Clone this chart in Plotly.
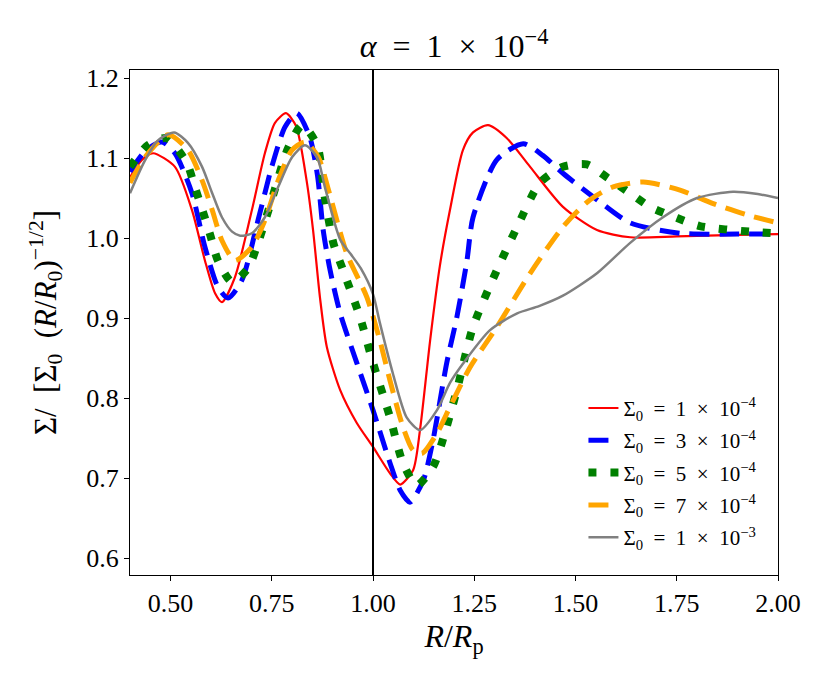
import plotly.graph_objects as go

# ---- data ----
red_x = [0.40, 0.43, 0.457, 0.511, 0.553, 0.585, 0.61, 0.627, 0.659, 0.701, 0.733, 0.758, 0.785, 0.81, 0.836,
         0.852, 0.869, 0.886, 0.919, 0.96, 1.0, 1.042, 1.067, 1.099, 1.116, 1.141, 1.165, 1.19, 1.222, 1.247,
         1.284, 1.33, 1.388, 1.469, 1.553, 1.635, 1.75, 1.9, 2.0]
red_y = [1.076, 1.098, 1.106, 1.089, 1.035, 0.972, 0.931, 0.92, 0.951, 1.035, 1.106, 1.144, 1.156, 1.14, 1.072,
         1.01, 0.926, 0.864, 0.81, 0.769, 0.739, 0.706, 0.692, 0.71, 0.76, 0.872, 0.965, 1.035, 1.11, 1.132,
         1.141, 1.125, 1.089, 1.039, 1.01, 1.001, 1.002, 1.004, 1.005]

blue_x = [0.40, 0.44, 0.479, 0.511, 0.553, 0.585, 0.617, 0.642, 0.676, 0.716, 0.75, 0.783, 0.812, 0.844, 0.863,
          0.877, 0.894, 0.919, 0.96, 1.0, 1.042, 1.067, 1.091, 1.124, 1.148, 1.182, 1.207, 1.232, 1.247, 1.306,
          1.371, 1.42, 1.469, 1.553, 1.635, 1.758, 1.9, 2.0]
blue_y = [1.083, 1.11, 1.12, 1.106, 1.056, 0.989, 0.939, 0.925, 0.947, 1.022, 1.089, 1.139, 1.156, 1.126, 1.078,
          1.01, 0.96, 0.906, 0.844, 0.785, 0.719, 0.685, 0.67, 0.697, 0.747, 0.844, 0.901, 0.972, 1.026, 1.098,
          1.118, 1.103, 1.081, 1.048, 1.019, 1.006, 1.005, 1.005]

green_x = [0.40, 0.444, 0.49, 0.54, 0.56, 0.58, 0.598, 0.617, 0.652, 0.691, 0.716, 0.75, 0.79, 0.825, 0.862,
           0.881, 0.902, 0.926, 0.968, 1.0, 1.042, 1.074, 1.108, 1.148, 1.17, 1.207, 1.247, 1.306, 1.356, 1.412,
           1.469, 1.528, 1.58, 1.635, 1.684, 1.751, 1.807, 1.93, 2.0]
green_y = [1.089, 1.116, 1.125, 1.094, 1.064, 1.033, 1.004, 0.972, 0.945, 0.962, 0.994, 1.048, 1.112, 1.141, 1.116,
           1.051, 0.994, 0.96, 0.901, 0.844, 0.776, 0.719, 0.691, 0.714, 0.744, 0.81, 0.889, 0.96, 1.014, 1.069,
           1.089, 1.092, 1.075, 1.056, 1.039, 1.025, 1.015, 1.008, 1.006]

orange_x = [0.40, 0.437, 0.494, 0.543, 0.578, 0.603, 0.627, 0.659, 0.701, 0.733, 0.766, 0.80, 0.832, 0.865, 0.889,
            0.935, 0.985, 1.017, 1.042, 1.074, 1.099, 1.121, 1.158, 1.19, 1.24, 1.306, 1.388, 1.469, 1.536, 1.593,
            1.667, 1.758, 1.84, 1.923, 2.0]
orange_y = [1.069, 1.101, 1.129, 1.11, 1.072, 1.035, 0.997, 0.972, 0.989, 1.022, 1.072, 1.11, 1.12, 1.101, 1.062,
            0.981, 0.926, 0.872, 0.822, 0.764, 0.735, 0.731, 0.756, 0.789, 0.839, 0.889, 0.956, 1.014, 1.048, 1.064,
            1.07, 1.06, 1.043, 1.029, 1.019]

grey_x = [0.40, 0.437, 0.469, 0.509, 0.543, 0.578, 0.603, 0.627, 0.652, 0.672, 0.701, 0.733, 0.766, 0.80, 0.832,
          0.862, 0.881, 0.919, 0.945, 0.97, 1.0, 1.017, 1.049, 1.083, 1.116, 1.158, 1.19, 1.222, 1.289, 1.356,
          1.41, 1.469, 1.553, 1.635, 1.716, 1.80, 1.889, 1.95, 2.0]
grey_y = [1.056, 1.097, 1.122, 1.132, 1.119, 1.089, 1.056, 1.026, 1.008, 1.003, 1.006, 1.026, 1.064, 1.101, 1.116,
          1.101, 1.064, 0.998, 0.98, 0.962, 0.93, 0.894, 0.831, 0.776, 0.76, 0.785, 0.819, 0.843, 0.885, 0.906,
          0.915, 0.928, 0.956, 0.994, 1.026, 1.05, 1.058, 1.055, 1.05]

E = "\u2002"  # en space, to mimic TeX math spacing
labels = [f"Σ<sub>0</sub>{E}={E}1{E}×{E}10<sup>−4</sup>",
          f"Σ<sub>0</sub>{E}={E}3{E}×{E}10<sup>−4</sup>",
          f"Σ<sub>0</sub>{E}={E}5{E}×{E}10<sup>−4</sup>",
          f"Σ<sub>0</sub>{E}={E}7{E}×{E}10<sup>−4</sup>",
          f"Σ<sub>0</sub>{E}={E}1{E}×{E}10<sup>−3</sup>"]

x_ticks = [0.50, 0.75, 1.00, 1.25, 1.50, 1.75, 2.00]
y_ticks = [0.6, 0.7, 0.8, 0.9, 1.0, 1.1, 1.2]

FONT = "Liberation Serif"

series = [
    (red_x, red_y, dict(color="red", width=2.2, dash="solid")),
    (blue_x, blue_y, dict(color="blue", width=5, dash="20px,10px")),
    (green_x, green_y, dict(color="green", width=8, dash="8px,14px")),
    (orange_x, orange_y, dict(color="orange", width=5, dash="20px,10px")),
    (grey_x, grey_y, dict(color="grey", width=2.5, dash="solid")),
]

fig = go.Figure()
for i, ((xs, ys, ln), lab) in enumerate(zip(series, labels)):
    fig.add_trace(go.Scatter(x=xs, y=ys, mode="lines", name=lab, legendgroup=f"g{i}",
                             line=dict(shape="spline", smoothing=0.7, **ln)))

fig.add_vline(x=1.0, line=dict(color="black", width=2))

axis_common = dict(showline=True, linecolor="black", linewidth=1.3, mirror=True,
                   ticks="outside", ticklen=5, tickwidth=1.2, tickcolor="black",
                   showgrid=False, zeroline=False,
                   tickfont=dict(family=FONT, size=26, color="black"))

fig.update_xaxes(range=[0.4, 2.0], tickvals=x_ticks, tickformat=".2f",
                 title=dict(text="<i>R</i>/<i>R</i><sub>p</sub>",
                            font=dict(family=FONT, size=32, color="black"), standoff=0),
                 **axis_common)
fig.update_yaxes(range=[0.579, 1.21], tickvals=y_ticks, tickformat=".1f",
                 title=dict(text=f"Σ/{E}[Σ<sub>0</sub>{E}(<i>R</i>/<i>R</i><sub>0</sub>)<sup>−1/2</sup>]",
                            font=dict(family=FONT, size=31, color="black"), standoff=20),
                 **axis_common)

fig.update_layout(
    width=830, height=692,
    margin=dict(l=130, r=52, t=70, b=117),
    paper_bgcolor="white", plot_bgcolor="white",
    title=dict(text=f"<i>α</i>{E}={E}1{E}×{E}10<sup>−4</sup>", x=0.5, xref="paper",
               y=1 - 46 / 692, yref="container", yanchor="middle",
               font=dict(family=FONT, size=32, color="black")),
    legend=dict(x=0.976, y=0.034, xanchor="right", yanchor="bottom",
                bgcolor="rgba(255,255,255,0)", borderwidth=0,
                font=dict(family=FONT, size=21, color="black"),
                tracegroupgap=2),
    showlegend=True,
)

fig.write_html("out.html", config={"displayModeBar": False},
               post_script="document.body.style.margin='0';")
